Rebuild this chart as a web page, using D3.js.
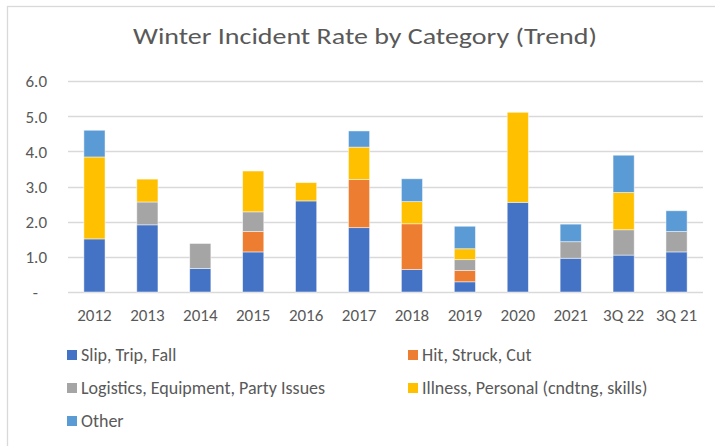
<!DOCTYPE html>
<html>
<head>
<meta charset="utf-8">
<script src="https://cdn.jsdelivr.net/npm/d3@7"></script>
<style>
  body { margin: 0; background: #fff; }
  svg { display: block; }
  text { font-family: Carlito, Calibri, Lato, "Open Sans", sans-serif; fill: #595959; }
</style>
</head>
<body>
<div id="chart"></div>
<script>
// data
var categories = ["2012", "2013", "2014", "2015", "2016", "2017", "2018", "2019", "2020", "2021", "3Q 22", "3Q 21"];
var seriesNames = ["Slip, Trip, Fall", "Hit, Struck, Cut", "Logistics, Equipment, Party Issues", "Illness, Personal (cndtng, skills)", "Other"];
var slipTripFall = [1.51, 1.91, 0.67, 1.14, 2.59, 1.83, 0.64, 0.29, 2.55, 0.96, 1.05, 1.14];
var hitStruckCut = [0, 0, 0, 0.58, 0, 1.37, 1.30, 0.32, 0, 0, 0, 0];
var logistics = [0, 0.65, 0.71, 0.56, 0, 0, 0, 0.31, 0, 0.47, 0.72, 0.58];
var illness = [2.33, 0.65, 0, 1.16, 0.52, 0.92, 0.63, 0.31, 2.56, 0, 1.06, 0];
var other = [0.76, 0, 0, 0, 0, 0.46, 0.65, 0.64, 0, 0.50, 1.06, 0.59];
var yTicks = [0, 1, 2, 3, 4, 5, 6];

var colors = ["#4472C4", "#ED7D31", "#A5A5A5", "#FFC000", "#5B9BD5"];

var width = 715;
var height = 446;

var svg = d3.select("#chart")
  .append("svg")
  .attr("width", width)
  .attr("height", height);

// chart frame (only top and left edges are visible in the crop)
svg.append("rect")
  .attr("x", 7.5)
  .attr("y", 6.5)
  .attr("width", 740)
  .attr("height", 460)
  .attr("fill", "#fff")
  .attr("stroke", "#d9d9d9")
  .attr("stroke-width", 1.3);

// title
svg.append("text")
  .attr("x", 133)
  .attr("y", 44)
  .attr("textLength", 464)
  .attr("lengthAdjust", "spacingAndGlyphs")
  .style("font-size", "23px")
  .text("Winter Incident Rate by Category (Trend)");

// scales
var x = d3.scaleBand()
  .domain(categories)
  .range([68, 703])
  .paddingInner(0.6)
  .paddingOuter(0.3);

var y = d3.scaleLinear()
  .domain([0, 6])
  .range([292, 81]);

// gridlines
svg.append("g")
  .selectAll("line")
  .data(yTicks)
  .enter()
  .append("line")
  .attr("x1", 68)
  .attr("x2", 703)
  .attr("y1", function(d) { return Math.round(y(d)) + 0.5; })
  .attr("y2", function(d) { return Math.round(y(d)) + 0.5; })
  .attr("stroke", "#d9d9d9")
  .attr("stroke-width", 1.3);

// y axis labels
var yAxis = d3.axisLeft(y)
  .tickValues(yTicks)
  .tickSize(0)
  .tickPadding(0)
  .tickFormat(function(d) { return d === 0 ? "-" : d3.format(".1f")(d); });

var yG = svg.append("g")
  .attr("transform", "translate(47,0)")
  .call(yAxis);
yG.select(".domain").remove();
yG.selectAll("text")
  .style("font-size", "17px")
  .attr("dy", "0.35em")
  .attr("x", function(d) { return d === 0 ? -9 : 0; });

// x axis labels
var xAxis = d3.axisBottom(x).tickSize(0).tickPadding(0);
var xG = svg.append("g")
  .attr("transform", "translate(0,308)")
  .call(xAxis);
xG.select(".domain").remove();
xG.selectAll("text")
  .style("font-size", "17px")
  .attr("dy", "0.78em");

// stacked bars
var rows = categories.map(function(c, i) {
  return {
    cat: c,
    s0: slipTripFall[i],
    s1: hitStruckCut[i],
    s2: logistics[i],
    s3: illness[i],
    s4: other[i]
  };
});
var stack = d3.stack().keys(["s0", "s1", "s2", "s3", "s4"]);
var layers = stack(rows);

svg.append("g")
  .selectAll("g")
  .data(layers)
  .enter()
  .append("g")
  .attr("fill", function(d, i) { return colors[i]; })
  .selectAll("rect")
  .data(function(d) { return d.filter(function(p) { return p[1] - p[0] > 0; }); })
  .enter()
  .append("rect")
  .attr("x", function(d) { return x(d.data.cat); })
  .attr("width", x.bandwidth())
  .attr("y", function(d) { return y(d[1]); })
  .attr("height", function(d) { return y(d[0]) - y(d[1]); })
  .attr("stroke", "#fff")
  .attr("stroke-opacity", 0.6)
  .attr("stroke-width", 0.8);

// legend
var legendPos = [
  [67, 355], [408, 355],
  [67, 388], [408, 388],
  [67, 421]
];
var legend = svg.append("g")
  .selectAll("g")
  .data(seriesNames)
  .enter()
  .append("g")
  .attr("transform", function(d, i) { return "translate(" + legendPos[i][0] + "," + legendPos[i][1] + ")"; });

legend.append("rect")
  .attr("x", 0)
  .attr("y", -5)
  .attr("width", 10)
  .attr("height", 10)
  .attr("fill", function(d, i) { return colors[i]; });

legend.append("text")
  .attr("x", 14)
  .attr("y", 0)
  .attr("dy", "0.35em")
  .style("font-size", "18px")
  .text(function(d) { return d; });
</script>
</body>
</html>
